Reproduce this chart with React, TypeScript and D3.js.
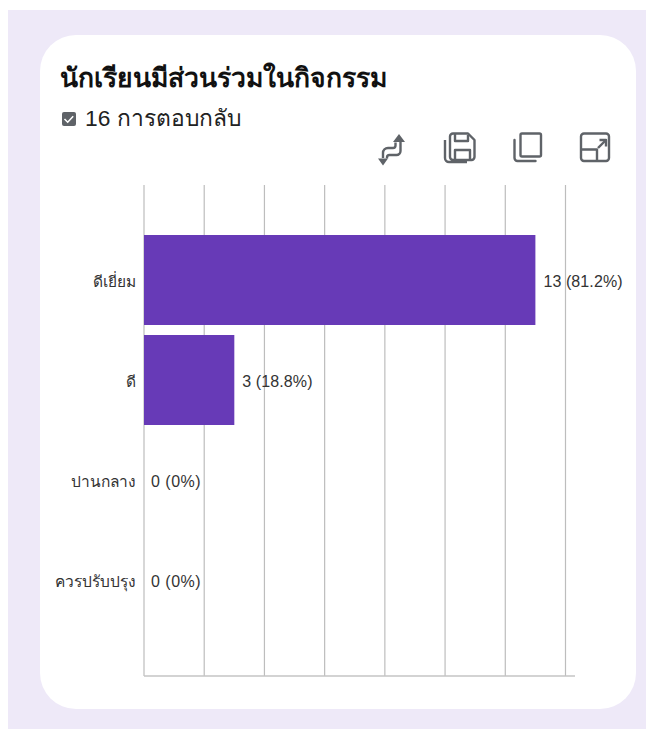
import React from "react";
import * as d3 from "d3";

const categories = ["ดีเยี่ยม", "ดี", "ปานกลาง", "ควรปรับปรุง"];
const counts = [13, 3, 0, 0];
const valueLabels = ["13 (81.2%)", "3 (18.8%)", "0 (0%)", "0 (0%)"];
const xTicks = [0, 2, 4, 6, 8, 10, 12, 14];
const title = "นักเรียนมีส่วนร่วมในกิจกรรม";
const subtitle = "16 การตอบกลับ";

const W = 646, H = 729;
const thaiFont = "'Liberation Sans','Noto Sans',sans-serif";

export default function App() {
  const x = d3.scaleLinear().domain([0, 14]).range([144, 565.5]);
  const y = d3.scaleBand<string>().domain(categories).range([230, 630]).paddingInner(0.1).paddingOuter(0.05);
  const iconStroke = "#5f6368";
  return (
    <svg width={W} height={H} viewBox={`0 0 ${W} ${H}`}
      style={{ position: "fixed", left: 0, top: 0, background: "#fff" }}>
      <rect x={8} y={10} width={638} height={719} fill="#eee9f8" />
      <rect x={40} y={35} width={596} height={674} rx={36} fill="#fff" />

      <text x={60} y={87} fontSize={26.500} fontWeight={700} fill="#111" fontFamily={thaiFont}>{title}</text>

      <rect x={62} y={112} width={14} height={14} rx={2} fill="#5f6368" />
      <path d="M64.500 119l3.200 3.200 5.500-6" fill="none" stroke="#fff" strokeWidth={1.600} />
      <text x={85} y={126} fontSize={22.800} fill="#222" fontFamily={thaiFont}>{subtitle}</text>

      {/* toolbar icons */}
      <g fill="none" stroke={iconStroke} strokeWidth={2.400} strokeLinejoin="round">
        <path d="M383 158v-5a5 5 0 0 1 5-5h5a2.500 2.500 0 0 0 2.500-2.500v-3" />
        <path d="M400.500 142v9a4 4 0 0 1-4 4h-7a2.500 2.500 0 0 0-2.500 2.500v1" />
        <path d="M378 158.500h10l-5 7z" fill={iconStroke} stroke="none" />
        <path d="M393 142h12l-6-8z" fill={iconStroke} stroke="none" />
        <path d="M453 133.500h15l6.500 6.500v17a3 3 0 0 1-3 3h-18.500a3 3 0 0 1-3-3v-20.500a3 3 0 0 1 3-3z" />
        <path d="M445 140v18a4 4 0 0 0 4 4h18" />
        <path d="M455 134v7h13v-6M455 160v-10h15v10" />
        <rect x={520.500} y={133.500} width={20.500} height={23} rx={1.500} />
        <path d="M514.500 140v18a3 3 0 0 0 3 3h18" strokeLinecap="round" />
        <rect x={581} y={133.500} width={28} height={27.500} rx={3} />
        <path d="M581 149.500h16v11.500" />
        <path d="M598 148l7-7" />
        <path d="M599.500 140h6.500v6.500" />
      </g>

      {/* gridlines */}
      {xTicks.map(t => (
        <line key={t} x1={x(t)} x2={x(t)} y1={185} y2={676} stroke="#bdbdbd" strokeWidth={1.200} />
      ))}
      <line x1={144} x2={575} y1={676} y2={676} stroke="#c4c4c4" strokeWidth={1.400} />

      {/* bars */}
      {categories.map((c, i) => counts[i] > 0 && (
        <rect key={c} x={x(0)} y={y(c)} width={x(counts[i]) - x(0)} height={y.bandwidth()} fill="#673ab7" />
      ))}

      {/* category labels */}
      {categories.map(c => (
        <text key={c} x={136} y={(y(c) ?? 0) + y.bandwidth() / 2 + 6.500} textAnchor="end" fontSize={15.500} fill="#333" fontFamily={thaiFont}>{c}</text>
      ))}

      {/* value labels */}
      {categories.map((c, i) => (
        <text key={c} x={x(counts[i]) + (counts[i] > 0 ? 8 : 7)} y={(y(c) ?? 0) + y.bandwidth() / 2 + 7} fontSize={16} letterSpacing={counts[i] > 0 ? 0.100 : 0.500} fill="#333" fontFamily={thaiFont}>{valueLabels[i]}</text>
      ))}
    </svg>
  );
}
